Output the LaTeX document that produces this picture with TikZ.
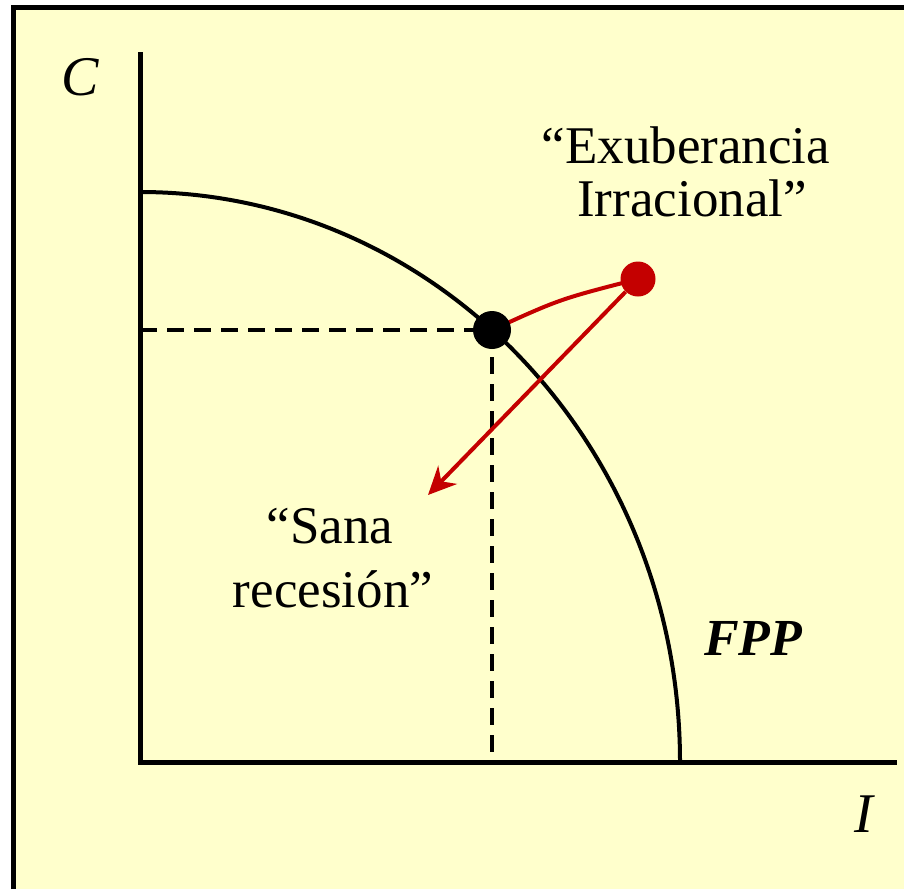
\documentclass[tikz,border=0pt]{standalone}
\usepackage{fontspec}
\setmainfont{Liberation Serif}
\usetikzlibrary{arrows.meta}
\definecolor{bgyellow}{RGB}{255,255,204}
\definecolor{darkred}{RGB}{196,0,0}
\pgfdeclarelayer{bg}
\pgfsetlayers{bg,main}
\begin{document}
\begin{tikzpicture}[x=1pt,y=-1pt,
  axisline/.style={line width=5pt},
  curveline/.style={line width=4pt},
  guide/.style={line width=4pt,dash pattern=on 17pt off 10pt},
  redline/.style={draw=darkred,line width=4pt},
  lbl/.style={inner sep=0pt,anchor=base,font=\fontsize{53}{53}\selectfont},
  dot/.style={circle,inner sep=0pt,minimum size=#1}]
\useasboundingbox (0,0) rectangle (904,889);
\begin{pgfonlayer}{bg}
\fill[white] (0,0) rectangle (904,889);
\fill[bgyellow] (13,7) rectangle (904,889);
\draw[line width=5pt] (13,889) -- (13,7) -- (904,7);
\end{pgfonlayer}
% axes
\coordinate (O) at (140,762);
\coordinate (Ctop) at (140,52);
\coordinate (Iend) at (897,762);
\draw[axisline] (Ctop) -- (O) -- (Iend);
% FPP curve
\draw[curveline] (140,192) arc[start angle=-90,end angle=0,x radius=540,y radius=570];
% guides
\coordinate (E) at (492,330);
\coordinate (Cy) at (140,330);
\coordinate (Ix) at (492,762);
\draw[guide] (Cy) -- (E);
\draw[guide] (E) -- (Ix);
% dots
\node[dot=38pt,fill=black] (bd) at (E) {};
\node[dot=35pt,fill=darkred] (rd) at (638,279) {};
\coordinate (tip) at (428,495);
\begin{pgfonlayer}{bg}
\draw[redline] (bd.center) .. controls (560,299) .. (rd.center);
\end{pgfonlayer}
\draw[redline,-{Stealth[length=28pt,width=26pt,inset=9pt]}] (rd) -- (tip);
% labels
\node[lbl] (ex1) at (686,163) {“Exuberancia};
\node[lbl] (ex2) at (692,216) {Irracional”};
\node[lbl] (sn1) at (330,543) {“Sana};
\node[lbl] (sn2) at (333,607) {recesión”};
\node[lbl,anchor=base west,font=\fontsize{52}{52}\selectfont\bfseries\itshape] (fpp) at (704,655) {FPP};
\node[lbl,font=\fontsize{56}{56}\selectfont\itshape] (cl) at (80,95) {C};
\node[lbl,font=\fontsize{56}{56}\selectfont\itshape] (il) at (864,832) {I};
\end{tikzpicture}
\end{document}
